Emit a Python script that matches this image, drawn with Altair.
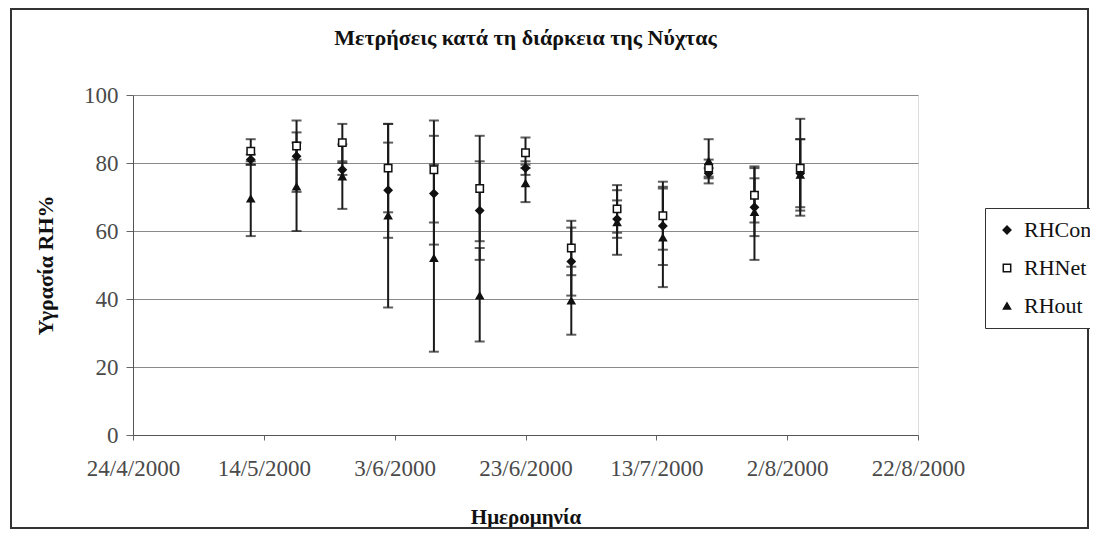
import altair as alt
import pandas as pd

# ---- data ----
dates = ["2000-05-12", "2000-05-19", "2000-05-26", "2000-06-02", "2000-06-09",
         "2000-06-16", "2000-06-23", "2000-06-30", "2000-07-07", "2000-07-14",
         "2000-07-21", "2000-07-28", "2000-08-04"]

rhcon    = [81.0, 82.0, 78.0, 72.0, 71.0, 66.0, 78.5, 51.0, 63.5, 61.5, 77.0, 67.0, 77.0]
rhcon_lo = [79.5, 71.5, 76.5, 58.0, 56.0, 51.5, 76.5, 41.0, 58.0, 50.0, 75.5, 58.5, 67.0]
rhcon_hi = [82.5, 92.5, 80.0, 86.0, 88.0, 80.5, 80.5, 61.0, 69.0, 73.0, 78.5, 75.5, 87.0]

rhnet    = [83.5, 85.0, 86.0, 78.5, 78.0, 72.5, 83.0, 55.0, 66.5, 64.5, 78.5, 70.5, 78.5]
rhnet_lo = [79.5, 81.0, 80.5, 65.5, 62.5, 57.0, 78.5, 47.0, 59.5, 54.5, 76.0, 62.5, 64.5]
rhnet_hi = [87.0, 89.0, 91.5, 91.5, 92.5, 88.0, 87.5, 63.0, 73.5, 74.5, 81.0, 78.5, 93.0]

rhout    = [69.5, 73.0, 76.0, 64.5, 52.0, 41.0, 74.0, 39.5, 62.5, 58.0, 80.5, 65.5, 76.5]
rhout_lo = [58.5, 60.0, 66.5, 37.5, 24.5, 27.5, 68.5, 29.5, 53.0, 43.5, 74.0, 51.5, 66.0]
rhout_hi = [80.5, 86.0, 85.5, 91.5, 79.5, 55.0, 79.5, 49.5, 72.0, 72.5, 87.0, 79.0, 87.0]

series = ["RHCon", "RHNet", "RHout"]
y_ticks = [0, 20, 40, 60, 80, 100]
x_ticks = [(2000, 4, 24), (2000, 5, 14), (2000, 6, 3), (2000, 6, 23),
           (2000, 7, 13), (2000, 8, 2), (2000, 8, 22)]

rows = []
for name, v, lo, hi in [("RHCon", rhcon, rhcon_lo, rhcon_hi),
                        ("RHNet", rhnet, rhnet_lo, rhnet_hi),
                        ("RHout", rhout, rhout_lo, rhout_hi)]:
    for d, a, b, c in zip(dates, v, lo, hi):
        rows.append({"date": d, "series": name, "value": a, "lo": b, "hi": c})
df = pd.DataFrame(rows)

FONT = "Liberation Serif"
W, H = 785, 340

def dt(t):
    return alt.DateTime(year=t[0], month=t[1], date=t[2], utc=True)

xenc = alt.X("date:T",
             scale=alt.Scale(type="utc", domain=[dt(x_ticks[0]), dt(x_ticks[-1])]),
             axis=alt.Axis(values=[dt(t) for t in x_ticks],
                           labelExpr="utcFormat(datum.value, '%-d/%-m/%Y')",
                           title="Ημερομηνία", grid=False, labelFlush=False,
                           tickSize=5, tickColor="#666", domainColor="#555",
                           labelPadding=17, labelFontSize=23, labelColor="#4a4a4a",
                           labelFont=FONT, titleFont=FONT, titleFontSize=21,
                           titleFontWeight="bold", titleColor="#111",
                           titlePadding=26, labelOverlap=False))

yscale = alt.Scale(domain=[0, 100])
yaxis = alt.Axis(values=y_ticks, title="Υγρασία RH%", grid=True, gridColor="#8a8a8a",
                 tickSize=7, tickColor="#666", domainColor="#555",
                 labelPadding=8, labelFontSize=23, labelColor="#4a4a4a", labelFont=FONT,
                 titleFont=FONT, titleFontSize=22, titleFontWeight="bold",
                 titleColor="#111", titlePadding=26)

base = alt.Chart(df)

frame = alt.Chart(pd.DataFrame({"k": [0]})).mark_rect(
    fillOpacity=0, stroke="#333", strokeWidth=2).encode(
    x=alt.value(-122), x2=alt.value(955), y=alt.value(-86), y2=alt.value(433))

bars = base.mark_rule(color="#1a1a1a", strokeWidth=2).encode(
    x=xenc, y=alt.Y("lo:Q", scale=yscale, axis=yaxis), y2="hi:Q")

cap_lo = base.mark_tick(orient="horizontal", color="#1a1a1a", size=10, thickness=2).encode(
    x="date:T", y="lo:Q")
cap_hi = base.mark_tick(orient="horizontal", color="#1a1a1a", size=10, thickness=2).encode(
    x="date:T", y="hi:Q")

pts = base.mark_point(opacity=1, strokeWidth=1.5).encode(
    x="date:T", y="value:Q",
    shape=alt.Shape("series:N", scale=alt.Scale(domain=series,
                    range=["diamond", "square", "triangle-up"]),
                    legend=alt.Legend(title=None, orient="none", legendX=852, legendY=113,
                                      labelFont=FONT, labelFontSize=22, labelColor="#111",
                                      strokeColor="#333", fillColor="white", padding=11,
                                      rowPadding=16, symbolSize=70, symbolStrokeWidth=1.5,
                                      labelOffset=6)),
    fill=alt.Fill("series:N", scale=alt.Scale(domain=series, range=["#111", "white", "#111"])),
    size=alt.Size("series:N", scale=alt.Scale(domain=series, range=[60, 50, 80])),
    stroke=alt.value("#111"),
    order=alt.Order("series:N"),
)

chart = alt.layer(bars, cap_lo, cap_hi, pts, frame).properties(
    width=W, height=H,
    title=alt.TitleParams("Μετρήσεις κατά τη διάρκεια της Νύχτας", font=FONT,
                          fontSize=22, fontWeight="bold", color="#111",
                          anchor="middle", offset=-42),
    autosize=alt.AutoSizeParams(type="none"),
    padding={"left": 125, "top": 87, "right": 172, "bottom": 95},
).configure_view(stroke=None).configure(background="white")

chart.save("out.html", embed_options={"renderer": "svg", "actions": False})
